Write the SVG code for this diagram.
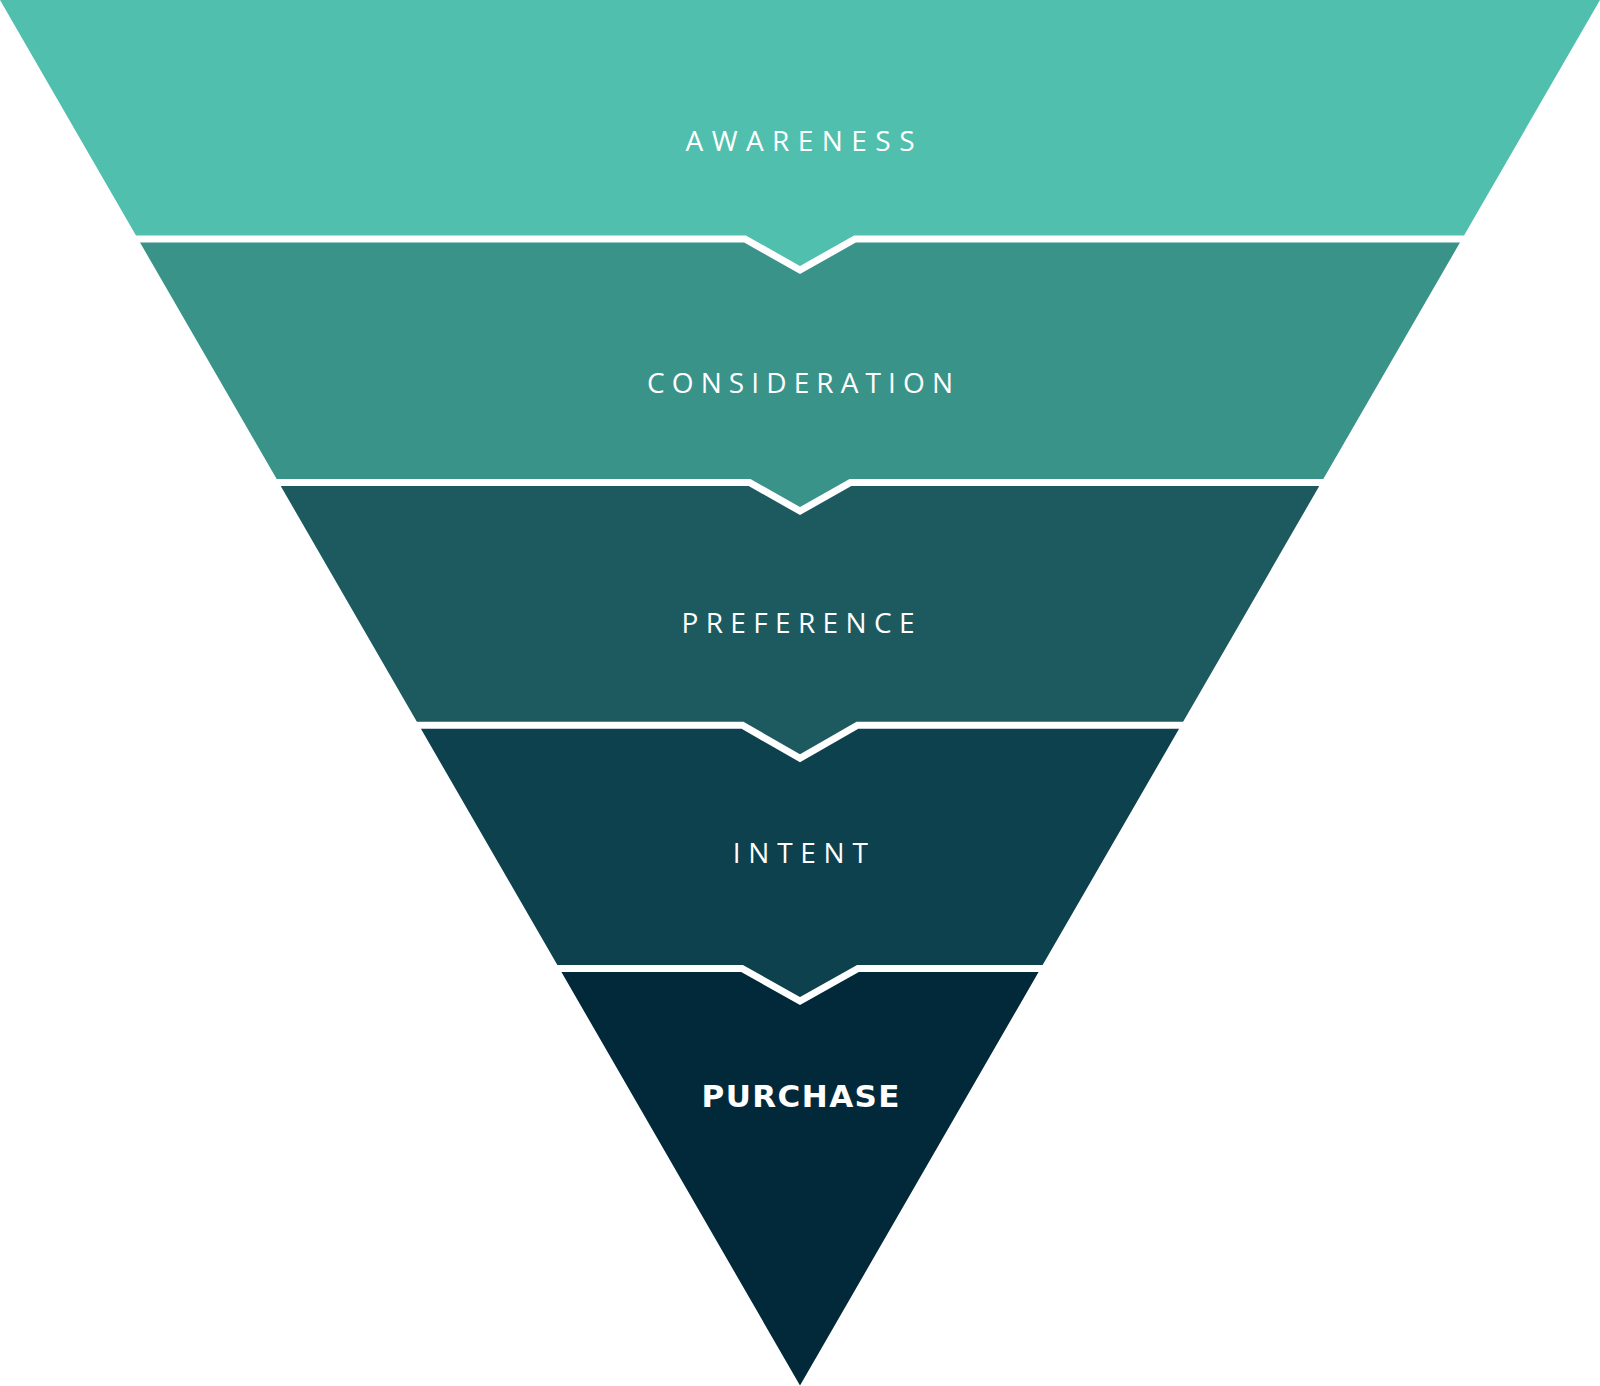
<svg xmlns="http://www.w3.org/2000/svg" width="1600" height="1386" viewBox="0 0 1600 1386">
<style>
.lbl{font-family:"Open Sans","Lato","Liberation Sans",sans-serif;font-size:28px;font-weight:400;fill:#ffffff;text-anchor:middle}
.bold{font-family:"DejaVu Sans","Open Sans","Liberation Sans",sans-serif;font-size:31px;font-weight:700}
.sep{fill:none;stroke:#ffffff;stroke-width:7;stroke-linejoin:miter}
</style>
<rect x="0" y="0" width="1600" height="1386" fill="#ffffff"/>
<g id="awareness">
<path d="M0,0 H1600 L1462,239 H855 L800,270 L745,239 H138 Z" fill="#51BFAE"/>
<text class="lbl" x="800" y="150.7" textLength="229" lengthAdjust="spacing">AWARENESS</text>
</g>
<g id="consideration">
<path d="M138,239 H745 L800,270 L855,239 H1462 L1321.3,482.5 H850.5 L800,511 L749.5,482.5 H278.7 Z" fill="#3A9389"/>
<text class="lbl" x="800" y="392.7" textLength="306" lengthAdjust="spacing">CONSIDERATION</text>
</g>
<g id="preference">
<path d="M278.7,482.5 H749.5 L800,511 L850.5,482.5 H1321.3 L1181.1,725.3 H857.5 L800,758.3 L742.5,725.3 H418.9 Z" fill="#1C5A60"/>
<text class="lbl" x="798" y="632.7" textLength="233" lengthAdjust="spacing">PREFERENCE</text>
</g>
<g id="intent">
<path d="M418.9,725.3 H742.5 L800,758.3 L857.5,725.3 H1181.1 L1040.6,968.5 H858 L800,1001 L742,968.5 H559.4 Z" fill="#0D414D"/>
<text class="lbl" x="800.3" y="863.3" textLength="135" lengthAdjust="spacing">INTENT</text>
</g>
<g id="purchase">
<path d="M559.4,968.5 H742 L800,1001 L858,968.5 H1040.6 L800,1385.5 Z" fill="#02293A"/>
<text class="lbl bold" x="800.5" y="1106.7" textLength="198" lengthAdjust="spacing">PURCHASE</text>
</g>
<g id="connectors">
<polyline class="sep" points="120,239 745,239 800,270 855,239 1480,239"/>
<polyline class="sep" points="260,482.5 749.5,482.5 800,511 850.5,482.5 1340,482.5"/>
<polyline class="sep" points="400,725.3 742.5,725.3 800,758.3 857.5,725.3 1200,725.3"/>
<polyline class="sep" points="540,968.5 742,968.5 800,1001 858,968.5 1060,968.5"/>
</g>
</svg>
